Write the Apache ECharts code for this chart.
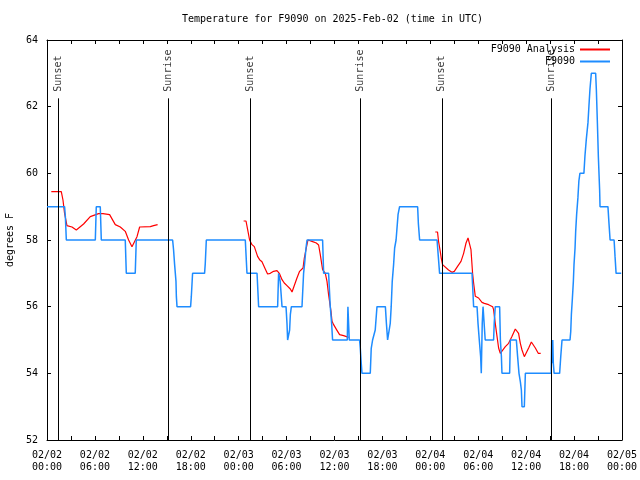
<!DOCTYPE html>
<html>
<head>
<meta charset="utf-8">
<script src="https://cdn.jsdelivr.net/npm/echarts@6/dist/echarts.min.js"></script>
<style>html,body{margin:0;padding:0;background:#fff}#c{width:640px;height:480px}</style>
</head>
<body>
<div id="c"></div>
<script>
// Hours since 2025-02-02 00:00 UTC
var obsHours = [0,2.2,2.3,2.42,6.05,6.17,6.67,6.8,9.8,9.93,11.05,11.18,15.73,15.85,15.98,16.15,16.2,16.28,17.98,18.07,18.23,19.73,19.82,19.95,24.83,25.04,26.3,26.5,28.88,29.0,29.2,29.43,29.93,30.05,30.13,30.25,30.38,30.47,30.6,31.93,32.13,32.26,32.43,32.56,34.51,34.64,35.26,35.47,35.64,35.76,37.6,37.68,37.8,37.85,39.14,39.23,39.35,39.44,40.48,40.6,40.77,40.98,41.1,41.32,42.37,42.5,42.65,42.86,42.98,43.1,43.23,43.4,43.53,43.71,43.96,44.15,46.41,46.5,46.66,48.84,49.0,49.16,53.22,53.32,53.42,53.85,53.97,54.13,54.3,54.38,54.5,54.6,54.8,54.87,55.92,56.0,56.13,56.68,56.77,56.9,56.97,57.93,58.02,58.77,58.93,59.1,59.27,59.4,59.48,59.77,59.9,63.13,63.2,63.27,63.33,63.4,63.5,64.19,64.33,64.49,65.49,65.58,65.66,65.79,65.91,65.99,66.12,66.2,66.32,66.48,66.6,66.73,67.23,67.36,67.53,67.66,67.74,67.86,67.99,68.16,68.7,68.79,68.92,69.04,69.2,69.25,70.24,70.37,70.51,71.01,71.13,71.26,71.9];
var obsTemps = [59,59,58.7,58,58,59,59,58,58,57,57,58,58,57.7,57.26,56.76,56.3,56,56,56.3,57,57,57.3,58,58,57,57,56,56,57,56.76,56,56,55.5,55,55,55.3,55.76,56,56,57,57.3,57.76,58,58,57,57,56,55.5,55,55,56,56,55,55,54.75,54.3,54,54,54.75,55,55,55.3,56,56,55.5,55,55,55.5,56,56.76,57.26,57.76,58,58.77,59,59,58.5,58,58,57.5,57,57,56.5,56,56,55.5,55,54.5,54,55.5,56,56,55,55,55.5,56,56,55,54.5,54,54,55,55,54.5,54,53.75,53.5,53,53,54,54,55,54.3,55,54.3,54,54,54.5,55,55,55.25,55.76,56.26,56.76,57.26,57.76,58.26,58.77,59.27,59.77,60,60,60.52,61.02,61.02,61.52,62.02,62.53,63,63,62.5,61.5,60.5,59.5,59,59,58.5,58,58,57.5,57,57];

var anaHours = [0.54,1.79,2.0,2.2,2.5,3.13,3.67,4.58,5.42,5.63,6.46,7.01,7.84,8.55,9.18,9.8,10.22,10.64,10.84,11.27,11.6,12.94,13.35,13.85,
  19.0,
  24.62,24.92,25.12,25.37,25.67,25.96,26.37,26.62,26.92,27.33,27.62,27.96,28.37,28.8,29.09,29.43,29.71,30.05,30.47,30.68,30.88,31.3,31.63,32.06,32.22,32.47,32.68,33.18,33.72,34.01,34.22,34.51,34.85,35.06,35.26,35.56,35.69,35.89,36.31,36.64,37.14,37.77,
  43.0,
  48.62,48.9,49.03,49.24,49.37,49.53,49.74,50.28,50.71,51.0,51.41,51.84,52.17,52.47,52.72,52.92,53.09,53.29,53.42,53.63,54.04,54.47,54.76,55.3,55.8,55.92,56.13,56.35,56.55,56.76,56.97,57.39,57.8,58.23,58.64,58.85,59.05,59.27,59.48,59.77,59.98,60.31,60.65,60.86,61.15,61.51,61.82];
var anaTemps = [59.45,59.45,59.2,58.8,58.43,58.39,58.3,58.48,58.7,58.74,58.79,58.79,58.76,58.46,58.39,58.26,58.0,57.8,57.8,58.1,58.39,58.4,58.43,58.46,
  null,
  58.57,58.57,58.32,58.0,57.86,57.8,57.51,57.41,57.35,57.13,56.98,57.0,57.06,57.08,57.0,56.81,56.71,56.63,56.53,56.44,56.44,56.86,57.06,57.16,57.46,57.76,58.0,57.96,57.91,57.85,57.56,57.11,57.0,56.76,56.36,55.86,55.56,55.46,55.29,55.16,55.13,55.08,
  null,
  58.24,58.24,57.96,57.66,57.45,57.26,57.2,57.1,57.03,57.06,57.21,57.36,57.6,57.91,58.06,58.06,57.71,57.0,56.71,56.31,56.26,56.13,56.1,56.06,56.0,55.91,55.5,55.11,54.76,54.6,54.65,54.8,54.9,55.11,55.33,55.34,55.2,54.9,54.7,54.5,54.55,54.76,54.94,54.9,54.76,54.6,54.6];

var sunHours = [1.42, 15.22, 25.42, 39.2, 49.43, 63.2];
var sunLabels = ['Sunset','Sunrise','Sunset','Sunrise','Sunset','Sunrise'];

var yTicks = [52,54,56,58,60,62,64];

var FONT = 'DejaVu Sans Mono';
function zip(a, b) { return a.map(function (v, i) { return [v, b[i]]; }); }
function two(n) { return (n < 10 ? '0' : '') + n; }
function fmtHour(h) {
  var d = 2 + Math.floor(h / 24);
  var hh = Math.round(h % 24);
  return '02/' + two(d) + '\n' + two(hh) + ':00';
}

var chart = echarts.init(document.getElementById('c'), null, {renderer: 'canvas'});
var axisLineStyle = {color: '#000', width: 1};
var xBase = {
  type: 'value', min: 0, max: 72, interval: 6,
  axisLine: {show: true, onZero: false, lineStyle: axisLineStyle},
  axisTick: {show: true, inside: true, length: 4, lineStyle: axisLineStyle},
  minorTick: {show: true, splitNumber: 2, length: 4, lineStyle: axisLineStyle},
  splitLine: {show: false}
};
var yBase = {
  type: 'value', min: yTicks[0], max: yTicks[yTicks.length - 1], interval: 2,
  axisLine: {show: true, onZero: false, lineStyle: axisLineStyle},
  axisTick: {show: true, inside: true, length: 4, lineStyle: axisLineStyle},
  splitLine: {show: false}
};

var option = {
  animation: false,
  backgroundColor: '#fff',
  title: {
    text: 'Temperature for F9090 on 2025-Feb-02 (time in UTC)',
    left: 177, top: 9,
    textStyle: {fontFamily: FONT, fontSize: 10, fontWeight: 'normal', color: '#000'}
  },
  legend: {
    orient: 'vertical', right: 25, top: 39, align: 'right',
    itemWidth: 30, itemHeight: 2, itemGap: 1, icon: 'rect',
    textStyle: {fontFamily: FONT, fontSize: 10, color: '#000', lineHeight: 11},
    data: ['F9090 Analysis', 'F9090']
  },
  grid: {left: 47, right: 18, top: 40, bottom: 40, containLabel: false, outerBoundsMode: 'none'},
  xAxis: [
    Object.assign({}, xBase, {
      position: 'bottom',
      axisLabel: {show: true, margin: 9, color: '#000', fontFamily: FONT, fontSize: 10, lineHeight: 12,
        formatter: function (v) { return fmtHour(v); }}
    }),
    Object.assign({}, xBase, {position: 'top', axisLabel: {show: false}})
  ],
  yAxis: [
    Object.assign({}, yBase, {
      position: 'left',
      name: 'degrees F', nameLocation: 'middle', nameGap: 32,
      nameTextStyle: {fontFamily: FONT, fontSize: 10, color: '#000'},
      axisLabel: {show: true, margin: 9, color: '#000', fontFamily: FONT, fontSize: 10}
    }),
    Object.assign({}, yBase, {position: 'right', axisLabel: {show: false}})
  ],
  series: [
    {
      name: 'sun', type: 'scatter', symbolSize: 0, silent: true,
      data: sunHours.map(function (h, i) { return {value: [h, 62.45], label: {formatter: sunLabels[i]}}; }),
      label: {show: true, position: 'inside', rotate: 90, align: 'left', verticalAlign: 'middle',
        fontFamily: FONT, fontSize: 10, color: '#000'},
      markLine: {
        silent: true, symbol: ['none', 'none'], animation: false,
        label: {show: false},
        lineStyle: {color: '#000', width: 1, type: 'solid'},
        emphasis: {disabled: true},
        data: sunHours.map(function (h) { return [{coord: [h, 52]}, {coord: [h, 62.25]}]; })
      },
      z: 1
    },
    {
      name: 'F9090 Analysis', type: 'line', showSymbol: false, symbol: 'none',
      connectNulls: false,
      data: zip(anaHours, anaTemps),
      itemStyle: {color: '#ff0000'},
      lineStyle: {color: '#ff0000', width: 1.2},
      z: 2
    },
    {
      name: 'F9090', type: 'line', showSymbol: false, symbol: 'none',
      data: zip(obsHours, obsTemps),
      itemStyle: {color: '#1e8cff'},
      lineStyle: {color: '#1e8cff', width: 1.5},
      z: 3
    }
  ]
};
chart.setOption(option);
</script>
</body>
</html>
